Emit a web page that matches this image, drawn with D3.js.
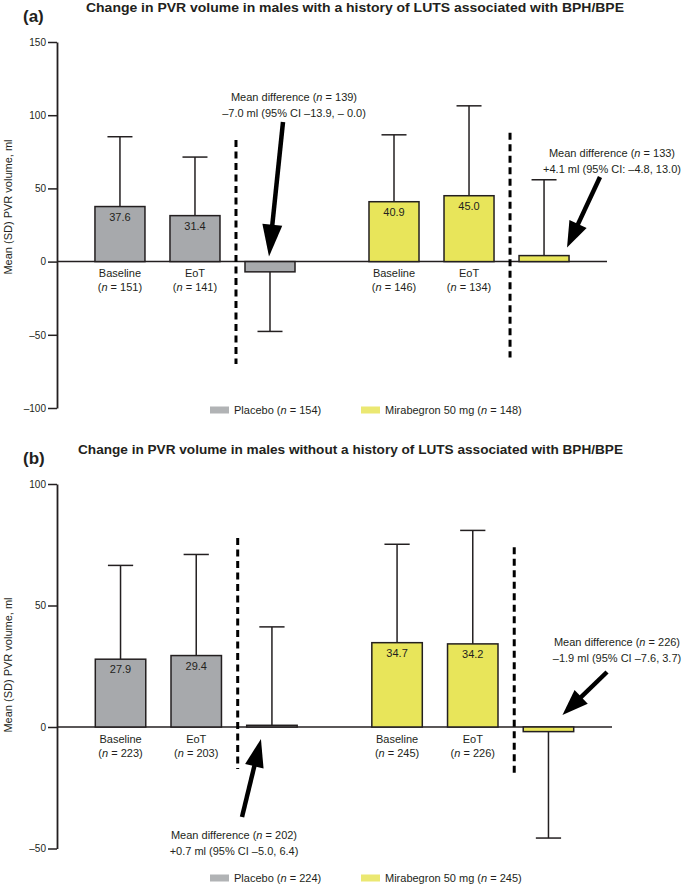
<!DOCTYPE html>
<html><head><meta charset="utf-8">
<script src="https://cdn.jsdelivr.net/npm/d3@7"></script>
<style>
body{margin:0;background:#fff;}
svg{display:block;font-family:"Liberation Sans",Arial,Helvetica,sans-serif;}
</style></head><body>
<svg id="chart" width="686" height="887"></svg>
<script>
// ---------- data ----------
const categories = ["Baseline", "EoT", "Mean difference"];
const treatments = ["Placebo", "Mirabegron 50 mg"];

// Panel (a)
const aTitle = "Change in PVR volume in males with a history of LUTS associated with BPH/BPE";
const aPlaceboMean = [37.6, 31.4, -7.0];
const aPlaceboSD = [47.7, 40.0, 40.7];
const aMirabegronMean = [40.9, 45.0, 4.1];
const aMirabegronSD = [45.7, 61.4, 51.8];
const aPlaceboN = [151, 141];
const aMirabegronN = [146, 134];
const aLegendN = [154, 148];
const aDiffN = [139, 133];
const aDiffText = ["–7.0 ml (95% CI –13.9, – 0.0)", "+4.1 ml (95% CI: –4.8, 13.0)"];
const aTicks = [150, 100, 50, 0, -50, -100];
const aTickLabels = ["150", "100", "50", "0", "–50", "–100"];

// Panel (b)
const bTitle = "Change in PVR volume in males without a history of LUTS associated with BPH/BPE";
const bPlaceboMean = [27.9, 29.4, 0.7];
const bPlaceboSD = [38.6, 41.6, 40.5];
const bMirabegronMean = [34.7, 34.2, -1.9];
const bMirabegronSD = [40.5, 46.7, 43.8];
const bPlaceboN = [223, 203];
const bMirabegronN = [245, 226];
const bLegendN = [224, 245];
const bDiffN = [202, 226];
const bDiffText = ["+0.7 ml (95% CI –5.0, 6.4)", "–1.9 ml (95% CI –7.6, 3.7)"];
const bTicks = [100, 50, 0, -50];
const bTickLabels = ["100", "50", "0", "–50"];

// ---------- styles / layout ----------
const INK = "#231f20";
const fills = ["#a7a9ac", "#e8e55a"];
const legendFills = ["#b1b3b5", "#ebe872"];
const yLabel = "Mean (SD) PVR volume, ml";

const panels = [
  {
    letter: "(a)", letterY: 22, title: aTitle, titleX: 86, titleLen: 538, titleY: 12,
    means: [aPlaceboMean, aMirabegronMean], sds: [aPlaceboSD, aMirabegronSD],
    ns: [aPlaceboN, aMirabegronN], legendN: aLegendN, diffN: aDiffN, diffText: aDiffText,
    ticks: aTicks, tickLabels: aTickLabels,
    yDomain: [-100, 150], yRange: [408, 42], xRange: [57, 607],
    yLabelY: 207, legendY: 410, catDy: [15.5, 29.5],
    dividers: [[83, -70], [88, -65.5]],
    notes: [{x: 294, y: 101}, {x: 612, y: 157}],
    arrows: [{tail: [283, 122], tipDx: -1, tipDy: -5, head: 32, w: 20},
             {tail: [600, 177], tipDx: 23, tipDy: -14, head: 26, w: 19}]
  },
  {
    letter: "(b)", letterY: 464, title: bTitle, titleX: 78, titleLen: 545, titleY: 454,
    means: [bPlaceboMean, bMirabegronMean], sds: [bPlaceboSD, bMirabegronSD],
    ns: [bPlaceboN, bMirabegronN], legendN: bLegendN, diffN: bDiffN, diffText: bDiffText,
    ticks: bTicks, tickLabels: bTickLabels,
    yDomain: [-50, 100], yRange: [848.5, 484], xRange: [57, 612],
    yLabelY: 665, legendY: 878, catDy: [16, 30],
    dividers: [[77.8, -17.3], [74, -19]],
    notes: [{x: 234, y: 839}, {x: 617, y: 646}],
    arrows: [{tail: [242, 817], tipDx: -11, tipDy: 12, head: 28, w: 19},
             {tail: [607, 672], tipDx: 14, tipDy: -12, head: 26, w: 19}]
  }
];

const svg = d3.select("#chart");

function nText(sel, before, n, after) {
  sel.append("tspan").text(before);
  sel.append("tspan").attr("font-style", "italic").text("n");
  sel.append("tspan").text(" = " + n + after);
}

function drawArrow(g, x1, y1, x2, y2, headLen, headW) {
  const dx = x2 - x1, dy = y2 - y1, L = Math.hypot(dx, dy);
  const ux = dx / L, uy = dy / L;
  const bx = x2 - ux * headLen, by = y2 - uy * headLen;
  g.append("line").attr("x1", x1).attr("y1", y1)
    .attr("x2", bx + ux * 2).attr("y2", by + uy * 2)
    .attr("stroke", "#000").attr("stroke-width", 4.5);
  const px = -uy, py = ux;
  g.append("path")
    .attr("d", `M${x2},${y2}L${bx + px * headW / 2},${by + py * headW / 2}L${bx - px * headW / 2},${by - py * headW / 2}Z`)
    .attr("fill", "#000");
}

panels.forEach(p => {
  const g = svg.append("g");
  const y = d3.scaleLinear().domain(p.yDomain).range(p.yRange);
  const xOuter = d3.scaleBand().domain(treatments).range(p.xRange)
    .paddingInner(0.27).paddingOuter(0.1385);
  const xInner = d3.scaleBand().domain(categories).range([0, xOuter.bandwidth()])
    .paddingInner(1 / 3).paddingOuter(0);

  // titles
  g.append("text").attr("x", 23).attr("y", p.letterY)
    .attr("font-size", 17).attr("font-weight", "bold").attr("fill", INK).text(p.letter);
  g.append("text").attr("x", p.titleX).attr("y", p.titleY)
    .attr("font-size", 12.5).attr("font-weight", "bold").attr("fill", INK)
    .attr("textLength", p.titleLen).attr("lengthAdjust", "spacingAndGlyphs").text(p.title);

  // y axis
  const axis = d3.axisLeft(y).tickValues(p.ticks)
    .tickFormat((d, i) => p.tickLabels[i]).tickSize(9).tickSizeOuter(0).tickPadding(2);
  const ag = g.append("g").attr("transform", `translate(${p.xRange[0]},0)`).call(axis);
  ag.select(".domain").attr("stroke", INK).attr("stroke-width", 1.8);
  ag.selectAll(".tick line").attr("stroke", INK).attr("stroke-width", 1.5);
  ag.selectAll(".tick text").attr("font-size", 10).attr("fill", INK)
    .attr("font-family", "'Liberation Sans',Arial,sans-serif");

  g.append("text")
    .attr("transform", `translate(12,${p.yLabelY}) rotate(-90)`)
    .attr("text-anchor", "middle").attr("font-size", 11).attr("fill", INK).text(yLabel);

  // zero line
  g.append("line").attr("x1", p.xRange[0]).attr("x2", p.xRange[1])
    .attr("y1", y(0)).attr("y2", y(0)).attr("stroke", INK).attr("stroke-width", 1.5);

  treatments.forEach((t, ti) => {
    const gx = xOuter(t);
    const bw = xInner.bandwidth();
    categories.forEach((c, ci) => {
      const m = p.means[ti][ci], sd = p.sds[ti][ci];
      const x0 = gx + xInner(c), cx = x0 + bw / 2;
      const end = m >= 0 ? m + sd : m - sd;
      // error bar
      g.append("line").attr("x1", cx).attr("x2", cx)
        .attr("y1", y(m)).attr("y2", y(end)).attr("stroke", INK).attr("stroke-width", 1.5);
      g.append("line").attr("x1", cx - bw / 4).attr("x2", cx + bw / 4)
        .attr("y1", y(end)).attr("y2", y(end)).attr("stroke", INK).attr("stroke-width", 1.5);
      // bar
      g.append("rect").attr("x", x0).attr("width", bw)
        .attr("y", y(Math.max(0, m))).attr("height", Math.abs(y(m) - y(0)))
        .attr("fill", fills[ti]).attr("stroke", INK).attr("stroke-width", 1.5);
      if (ci < 2) {
        g.append("text").attr("x", cx).attr("y", y(m) + 14)
          .attr("text-anchor", "middle").attr("font-size", 11).attr("fill", INK)
          .text(d3.format(".1f")(m));
        g.append("text").attr("x", cx).attr("y", y(0) + p.catDy[0])
          .attr("text-anchor", "middle").attr("font-size", 11).attr("fill", INK).text(c);
        const t2 = g.append("text").attr("x", cx).attr("y", y(0) + p.catDy[1])
          .attr("text-anchor", "middle").attr("font-size", 11).attr("fill", INK);
        nText(t2, "(", p.ns[ti][ci], ")");
      }
    });
    // divider
    const dx = gx + xInner(categories[2]) - 9;
    g.append("line").attr("x1", dx).attr("x2", dx)
      .attr("y1", y(p.dividers[ti][0])).attr("y2", y(p.dividers[ti][1]))
      .attr("stroke", "#000").attr("stroke-width", 3).attr("stroke-dasharray", "7,4.5");
    // note
    const note = p.notes[ti];
    const l1 = g.append("text").attr("x", note.x).attr("y", note.y)
      .attr("text-anchor", "middle").attr("font-size", 11).attr("fill", INK);
    nText(l1, "Mean difference (", p.diffN[ti], ")");
    g.append("text").attr("x", note.x).attr("y", note.y + 16)
      .attr("text-anchor", "middle").attr("font-size", 11).attr("fill", INK).text(p.diffText[ti]);
    // arrow
    const a = p.arrows[ti];
    const tipX = gx + xInner(categories[2]) + bw / 2 + a.tipDx;
    const tipY = y(0) + a.tipDy;
    drawArrow(g, a.tail[0], a.tail[1], tipX, tipY, a.head, a.w);
    // legend
    const lx = ti === 0 ? 210 : 361;
    g.append("rect").attr("x", lx).attr("y", p.legendY - 3.5).attr("width", 19).attr("height", 7)
      .attr("fill", legendFills[ti]);
    const lt = g.append("text").attr("x", lx + 24).attr("y", p.legendY + 4)
      .attr("font-size", 11).attr("fill", INK);
    nText(lt, t + " (", p.legendN[ti], ")");
  });
});
</script>
</body></html>
